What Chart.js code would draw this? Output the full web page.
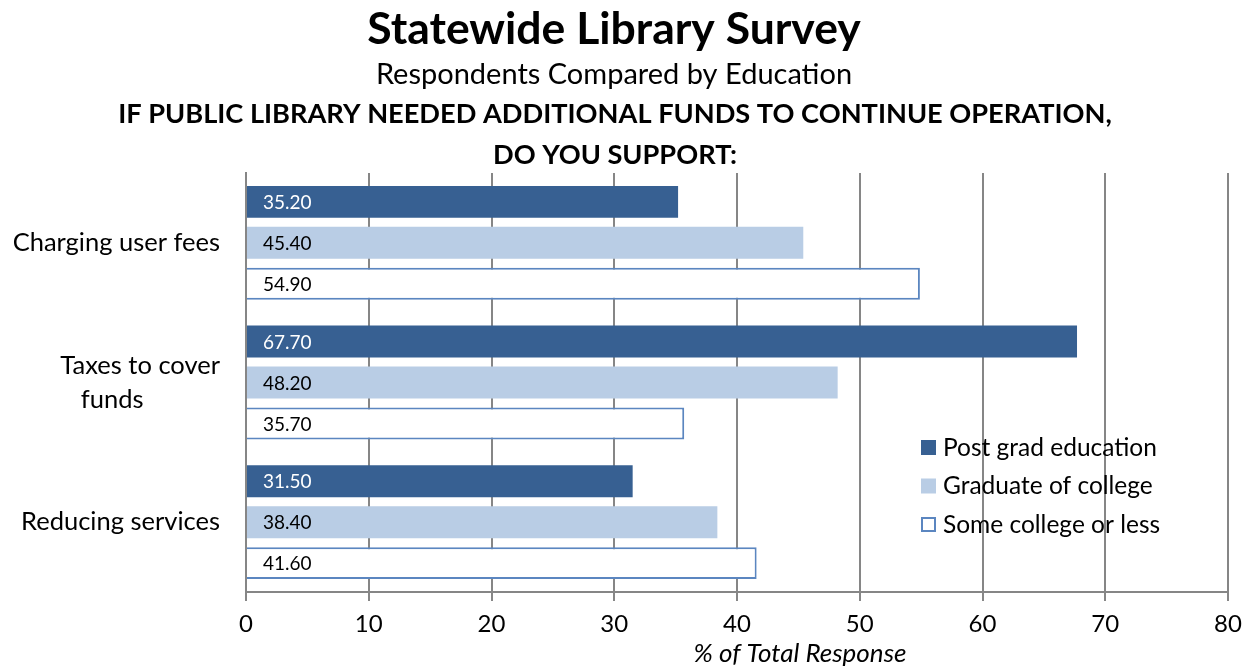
<!DOCTYPE html>
<html>
<head>
<meta charset="utf-8">
<script src="https://cdn.jsdelivr.net/npm/chart.js@4"></script>
<style>
  body { margin: 0; background: #fff; }
</style>
</head>
<body>
<canvas id="mycanvas" width="1248" height="667"></canvas>
<script>
var categories = ['Charging user fees', ['Taxes to cover', 'funds'], 'Reducing services'];
var seriesNames = ['Post grad education', 'Graduate of college', 'Some college or less'];
var postGrad = [35.2, 67.7, 31.5];
var graduate = [45.4, 48.2, 38.4];
var someCollege = [54.9, 35.7, 41.6];
var xTicks = [0, 10, 20, 30, 40, 50, 60, 70, 80];

var fills = ['#376092', '#b9cde5', '#ffffff'];
var borders = ['#376092', '#b9cde5', '#5b86c0'];
var labelColors = ['#ffffff', '#000000', '#000000'];
var FONT = 'Lato, "Open Sans", sans-serif';

// titles, value labels, legend and axis title
var extras = {
	id: 'extras',
	afterDatasetsDraw: function(chart) {
		var ctx = chart.ctx;
		ctx.save();
		ctx.font = '19px ' + FONT;
		ctx.textAlign = 'left';
		ctx.textBaseline = 'middle';
		chart.data.datasets.forEach(function(ds, i) {
			var meta = chart.getDatasetMeta(i);
			meta.data.forEach(function(bar, j) {
				ctx.fillStyle = labelColors[i];
				ctx.fillText(ds.data[j].toFixed(2), bar.base + 16, bar.y + 1);
			});
		});

		// legend
		ctx.font = '24.5px ' + FONT;
		chart.data.datasets.forEach(function(ds, i) {
			var y = 448 + i * 38.5;
			ctx.fillStyle = fills[i];
			ctx.fillRect(921, y - 8, 15, 15);
			if (i == 2) {
				ctx.strokeStyle = borders[i];
				ctx.lineWidth = 2;
				ctx.strokeRect(922, y - 7, 13, 13);
			}
			ctx.fillStyle = '#000';
			ctx.fillText(ds.label, 943, y);
		});
		ctx.restore();
	},
	afterDraw: function(chart) {
		var ctx = chart.ctx;
		ctx.save();
		ctx.fillStyle = '#000';
		ctx.textAlign = 'center';
		ctx.textBaseline = 'middle';
		ctx.font = 'bold 44.5px ' + FONT;
		ctx.fillText('Statewide Library Survey', 614, 30);
		ctx.font = '29px ' + FONT;
		ctx.fillText('Respondents Compared by Education', 614, 75);
		ctx.font = 'bold 27.2px ' + FONT;
		ctx.fillText('IF PUBLIC LIBRARY NEEDED ADDITIONAL FUNDS TO CONTINUE OPERATION,', 615, 114);
		ctx.fillText('DO YOU SUPPORT:', 615, 155);
		ctx.font = 'italic 26px ' + FONT;
		ctx.fillText('% of Total Response', 800, 654);
		ctx.restore();
	}
};

var chartdata = {
	labels: categories,
	datasets: [postGrad, graduate, someCollege].map(function(vals, i) {
		return {
			label: seriesNames[i],
			data: vals,
			backgroundColor: fills[i],
			borderColor: borders[i],
			borderWidth: i == 2 ? 2 : 0,
			categoryPercentage: 0.88,
			barPercentage: 0.78
		};
	})
};

var ctx = document.getElementById('mycanvas');
var barGraph = new Chart(ctx, {
	type: 'bar',
	data: chartdata,
	plugins: [extras],
	options: {
		indexAxis: 'y',
		responsive: false,
		animation: false,
		layout: { padding: { top: 173, right: 20, left: 0, bottom: 0 } },
		plugins: {
			legend: { display: false },
			tooltip: { enabled: false }
		},
		scales: {
			x: {
				min: 0,
				max: 80,
				afterBuildTicks: function(s) { s.ticks = xTicks.map(function(v) { return { value: v }; }); },
				afterFit: function(s) { s.height = 75; s.paddingLeft = 0; s.paddingRight = 0; },
				grid: { color: '#868686', lineWidth: 2, tickLength: 9 },
				border: { color: '#868686', width: 2 },
				ticks: { color: '#000', font: { family: FONT, size: 24 }, padding: 9, maxRotation: 0 }
			},
			y: {
				afterFit: function(s) { s.width = 246; },
				grid: { display: false, drawTicks: false },
				border: { color: '#868686', width: 2 },
				ticks: {
					color: '#000',
					font: { family: FONT, size: 25.5, lineHeight: 1.32 },
					padding: 26,
					// second wrapped line sits left of the axis edge, as in the original
					callback: function(v) {
						var l = this.chart.data.labels[v];
						return Array.isArray(l) ? [l[0], l[1] + '\u2003\u2003\u2003\u2003'] : l;
					}
				}
			}
		}
	}
});
</script>
</body>
</html>
